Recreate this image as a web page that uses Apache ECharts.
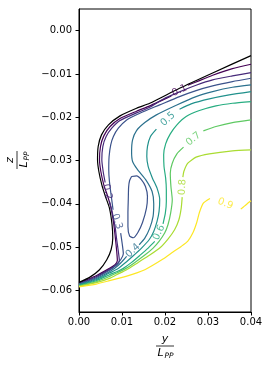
<!DOCTYPE html>
<html><head><meta charset="utf-8">
<script src="https://cdn.jsdelivr.net/npm/echarts@6/dist/echarts.min.js"></script>
<style>html,body{margin:0;padding:0;background:#fff}#c{width:274px;height:370px}</style>
</head><body><div id="c"></div>
<script>
const xTicks = [0, 0.01, 0.02, 0.03, 0.04];
const zTicks = [-0.06, -0.05, -0.04, -0.03, -0.02, -0.01, 0];

const levels = ['0.1','0.2','0.3','0.4','0.5','0.6','0.7','0.8','0.9'];
const levelColors = ['#440154','#472a7a','#3b528b','#2c718e','#21918c','#27ad81','#5ec962','#aadc32','#fde725'];

// hull section outline (y/Lpp, z/Lpp)
const hull = [[0,-0.05815],[0.00246,-0.0570],[0.00477,-0.05523],[0.00646,-0.05292],[0.00746,-0.05062],[0.00785,-0.04792],[0.00769,-0.04485],[0.00708,-0.0410],[0.00615,-0.03831],[0.00531,-0.03562],[0.00462,-0.03254],[0.00431,-0.02985],[0.00446,-0.02677],[0.00523,-0.02408],[0.00685,-0.02177],[0.00954,-0.01969],[0.01338,-0.01792],[0.01646,-0.01677],[0.02338,-0.01331],[0.03108,-0.00977],[0.04,-0.00577]];

// contour segments per level (gaps where the inline labels sit)
const c01 = [
 [[0.04,-0.00777],[0.03569,-0.00877],[0.03108,-0.01031],[0.02723,-0.01185],[0.02531,-0.01262]],
 [[0.02146,-0.01508],[0.01646,-0.01738],[0.01338,-0.01862],[0.00954,-0.02031],[0.00723,-0.02215],[0.00577,-0.02431],[0.0050,-0.02677],[0.00477,-0.02985],[0.00508,-0.03254],[0.00577,-0.03562],[0.00669,-0.03831],[0.00746,-0.0410],[0.0080,-0.04408],[0.00846,-0.04792],[0.00877,-0.0510],[0.00892,-0.05308],[0.00838,-0.05408],[0.00708,-0.05492],[0.0040,-0.05662],[0.00185,-0.05754],[0,-0.05827]]
];
const c02 = [
 [[0.04,-0.00969],[0.03569,-0.01046],[0.03108,-0.01138],[0.02723,-0.01262],[0.02338,-0.01415],[0.01954,-0.01585],[0.01646,-0.01769],[0.01338,-0.0190],[0.00954,-0.02077],[0.00762,-0.02254],[0.00631,-0.02446],[0.00554,-0.02677],[0.00531,-0.02985],[0.00562,-0.03254],[0.00608,-0.03508]],
 [[0.00708,-0.03946],[0.00777,-0.04215],[0.00838,-0.04523],[0.00877,-0.04831],[0.00915,-0.0510],[0.00938,-0.05308],[0.00877,-0.05408],[0.00708,-0.05515],[0.0040,-0.05685],[0.0020,-0.05769],[0,-0.05838]]
];
const c03 = [
 [[0.04,-0.0110],[0.03569,-0.01177],[0.03108,-0.01277],[0.02723,-0.01385],[0.02338,-0.01523],[0.01877,-0.01715],[0.01415,-0.01908],[0.01108,-0.02062],[0.00915,-0.02254],[0.0080,-0.02446],[0.00738,-0.02638],[0.0070,-0.02908],[0.00692,-0.03215],[0.00708,-0.03485],[0.00746,-0.03792],[0.00792,-0.04138]],
 [[0.00969,-0.04677],[0.01008,-0.04946],[0.01031,-0.05154],[0.00969,-0.05292],[0.00838,-0.05438],[0.00708,-0.05538],[0.0040,-0.05708],[0.0020,-0.05785],[0,-0.0585]],
 [[0.01223,-0.03369],[0.01338,-0.03354],[0.01454,-0.03446],[0.01546,-0.0360],[0.01592,-0.03831],[0.01569,-0.0410],[0.01477,-0.04431],[0.01369,-0.04662],[0.01262,-0.04785],[0.01177,-0.04746],[0.01138,-0.04523],[0.01138,-0.04215],[0.01146,-0.03908],[0.01154,-0.03615],[0.01177,-0.03462],[0.01223,-0.03369]]
];
const c04 = [
 [[0.04,-0.01254],[0.03569,-0.01308],[0.03108,-0.01408],[0.02723,-0.01523],[0.02262,-0.01723],[0.0180,-0.01946],[0.01531,-0.02123],[0.01338,-0.02308],[0.01246,-0.02523],[0.01223,-0.02792],[0.01246,-0.03023],[0.01354,-0.0320],[0.01554,-0.03446],[0.0170,-0.03715],[0.01738,-0.0400],[0.01723,-0.04292],[0.01646,-0.04562],[0.01531,-0.04792],[0.0140,-0.04946]],
 [[0.01108,-0.05215],[0.00969,-0.05369],[0.00838,-0.05485],[0.00708,-0.05569],[0.0040,-0.05731],[0.00185,-0.05808],[0,-0.05862]]
];
const c05 = [
 [[0.04,-0.01408],[0.03492,-0.01485],[0.03031,-0.01577],[0.02608,-0.01692],[0.02338,-0.01815]],
 [[0.0180,-0.02277],[0.01662,-0.02446],[0.01592,-0.02677],[0.01577,-0.02908],[0.01608,-0.03138],[0.01708,-0.03408],[0.01815,-0.03638],[0.01877,-0.03908],[0.01862,-0.04177],[0.01815,-0.04408],[0.01738,-0.04638],[0.01631,-0.04831],[0.01454,-0.05023],[0.01262,-0.0520],[0.01069,-0.05369],[0.00892,-0.05508],[0.00708,-0.0560],[0.0040,-0.05754],[0,-0.05873]]
];
const c06 = [
 [[0.04,-0.01638],[0.03569,-0.01677],[0.03185,-0.01738],[0.0280,-0.01846],[0.02492,-0.01985],[0.02277,-0.02177],[0.02123,-0.02385],[0.02015,-0.02615],[0.01969,-0.02869],[0.01977,-0.03138],[0.02015,-0.03408],[0.02031,-0.03677],[0.02031,-0.03946],[0.02008,-0.04215],[0.01954,-0.04462]],
 [[0.01762,-0.04869],[0.01608,-0.05023],[0.01415,-0.05192],[0.01223,-0.05354],[0.01031,-0.05492],[0.00877,-0.05569],[0.00708,-0.05638],[0.0040,-0.05777],[0,-0.05885]]
];
const c07 = [
 [[0.04,-0.02062],[0.03569,-0.02123],[0.03185,-0.02215],[0.02892,-0.02315]],
 [[0.02431,-0.02692],[0.02277,-0.02846],[0.02169,-0.03062],[0.02123,-0.03292],[0.02138,-0.0360],[0.02169,-0.03908],[0.02131,-0.04215],[0.02069,-0.04485],[0.01992,-0.04677],[0.01862,-0.04869],[0.01723,-0.05023],[0.01531,-0.05185],[0.0130,-0.05354],[0.01092,-0.05492],[0.00877,-0.0560],[0.00708,-0.05677],[0.0040,-0.0580],[0,-0.05896]]
];
const c08 = [
 [[0.04,-0.02754],[0.03569,-0.02777],[0.03031,-0.02846],[0.02723,-0.02923],[0.02531,-0.03062],[0.02438,-0.03254],[0.02415,-0.03385]],
 [[0.0240,-0.03846],[0.02377,-0.0410],[0.02323,-0.04369],[0.02223,-0.0460],[0.02069,-0.04815],[0.01877,-0.05023],[0.01646,-0.05185],[0.01377,-0.05354],[0.01108,-0.05523],[0.00877,-0.05638],[0.00708,-0.05723],[0.0040,-0.05823],[0,-0.05908]]
];
const c09 = [
 [[0,-0.05919],[0.0040,-0.05854],[0.00708,-0.05777],[0.01092,-0.05677],[0.01531,-0.05523],[0.01954,-0.05277],[0.02185,-0.05115],[0.02377,-0.04985],[0.02531,-0.04862],[0.02646,-0.04677],[0.02738,-0.04431],[0.0280,-0.0420],[0.02892,-0.03985],[0.03046,-0.03877]],
 [[0.03762,-0.04123],[0.03892,-0.04015],[0.04,-0.03931]]
];
const contours = [c01, c02, c03, c04, c05, c06, c07, c08, c09];

// inline contour labels
const labelX = [0.02338, 0.00658, 0.00881, 0.01254, 0.02069, 0.01858, 0.02662, 0.02408, 0.03404];
const labelZ = [-0.01385, -0.03727, -0.04408, -0.05081, -0.02046, -0.04665, -0.02504, -0.03615, -0.0400];
const labelAngle = [25, -77, -72, 43, 41, 65, 39, 88, -22];

const FONT = 'DejaVu Sans';
const series = [];
series.push({type:'line', data:hull, symbol:'none', smooth:0.2, silent:true, animation:false,
  lineStyle:{color:'#000', width:1.2}, z:3});
contours.forEach((segs, i) => {
  segs.forEach(seg => {
    series.push({type:'line', data:seg, symbol:'none', smooth:0.2, silent:true, animation:false,
      lineStyle:{color:levelColors[i], width:1.2}, z:2});
  });
});
series.push({type:'scatter', symbolSize:0, silent:true, animation:false, z:4,
  data: levels.map((t, i) => ({value:[labelX[i], labelZ[i]],
    label:{show:true, formatter:t, rotate:labelAngle[i], color:levelColors[i], position:'inside',
      fontSize:10, fontFamily:FONT, align:'center', verticalAlign:'middle'}}))
});

function frac(num, cx, cy, rot) {
  return {type:'group', x:cx, y:cy, rotation:rot, children:[
    {type:'text', x:0, y:-1.5, style:{text:num, fontSize:11, fontFamily:FONT, fontStyle:'italic',
      align:'center', verticalAlign:'bottom', fill:'#000'}},
    {type:'line', shape:{x1:-9, y1:0, x2:9, y2:0}, style:{stroke:'#000', lineWidth:0.8}},
    {type:'text', x:-4.5, y:1.5, style:{text:'L', fontSize:11, fontFamily:FONT, fontStyle:'italic',
      align:'center', verticalAlign:'top', fill:'#000'}},
    {type:'text', x:-0.5, y:6, style:{text:'PP', fontSize:7.5, fontFamily:FONT, fontStyle:'italic',
      align:'left', verticalAlign:'top', fill:'#000'}}
  ]};
}

const chart = echarts.init(document.getElementById('c'), null, {renderer:'canvas'});
chart.setOption({
  animation:false,
  backgroundColor:'#fff',
  grid:{left:79, top:9, width:172, height:303, show:true, borderColor:'#000', borderWidth:1, backgroundColor:'transparent'},
  xAxis:{type:'value', min:0, max:0.04, interval:0.01,
    axisLine:{show:true, onZero:false, lineStyle:{color:'#000', width:1}},
    axisTick:{show:true, length:3.5, lineStyle:{color:'#000'}},
    axisLabel:{color:'#000', fontSize:10, fontFamily:FONT, margin:5, formatter:v=>v.toFixed(2),
      customValues:xTicks},
    splitLine:{show:false}},
  yAxis:{type:'value', min:-0.065, max:0.005,
    axisLine:{show:true, onZero:false, lineStyle:{color:'#000', width:1}},
    axisTick:{show:true, length:3.5, lineStyle:{color:'#000'}, customValues:zTicks},
    axisLabel:{color:'#000', fontSize:10, fontFamily:FONT, margin:7, customValues:zTicks,
      formatter:v=> Math.abs(v) < 1e-9 ? '0.00' : (v < 0 ? '\u2212' : '') + Math.abs(v).toFixed(2)},
    splitLine:{show:false}},
  graphic:[frac('y', 165, 346, 0), frac('z', 17, 160, Math.PI/2)],
  series: series
});
</script></body></html>
